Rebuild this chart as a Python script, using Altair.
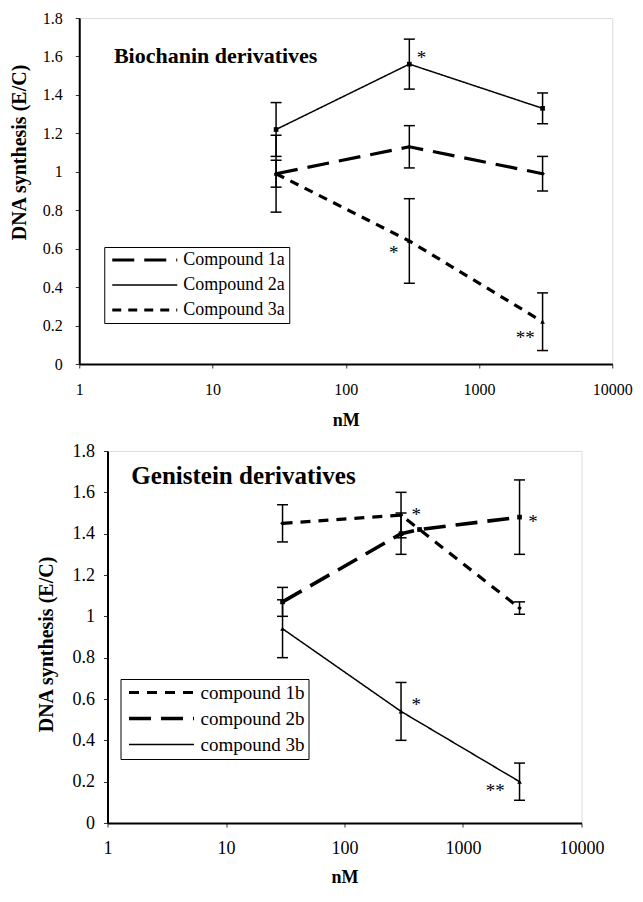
import altair as alt
import pandas as pd

FONT = "Liberation Serif"

# ---------------- data: top panel (Biochanin derivatives) ----------------
top_series = ["Compound 1a", "Compound 2a", "Compound 3a"]
top_x = [30, 300, 3000]
top_mean = {
    "Compound 1a": [0.99, 1.13, 0.99],
    "Compound 2a": [1.22, 1.56, 1.33],
    "Compound 3a": [0.99, 0.64, 0.22],
}
top_lo = {
    "Compound 1a": [0.92, 1.02, 0.90],
    "Compound 2a": [1.08, 1.43, 1.25],
    "Compound 3a": [0.79, 0.42, 0.07],
}
top_hi = {
    "Compound 1a": [1.06, 1.24, 1.08],
    "Compound 2a": [1.36, 1.69, 1.41],
    "Compound 3a": [1.19, 0.86, 0.37],
}
top_star_x = [370, 229, 2223]
top_star_y = [1.59, 0.58, 0.135]
top_star_text = ["*", "*", "**"]
top_title = "Biochanin derivatives"
top_title_x = [1.82]
top_title_y = [1.60]

# ---------------- data: bottom panel (Genistein derivatives) ----------------
bot_series = ["compound 1b", "compound 2b", "compound 3b"]
bot_line_x = {
    "compound 1b": [30, 300, 430, 3000],
    "compound 2b": [30, 300, 430, 3000],
    "compound 3b": [30, 300, 3000],
}
bot_line_y = {
    "compound 1b": [1.45, 1.49, 1.42, 1.04],
    "compound 2b": [1.07, 1.40, 1.42, 1.48],
    "compound 3b": [0.94, 0.54, 0.20],
}
bot_x = [30, 300, 3000]
bot_lo = {
    "compound 1b": [1.36, 1.38, 1.01],
    "compound 2b": [1.00, 1.30, 1.30],
    "compound 3b": [0.80, 0.40, 0.11],
}
bot_hi = {
    "compound 1b": [1.54, 1.60, 1.07],
    "compound 2b": [1.14, 1.50, 1.66],
    "compound 3b": [1.08, 0.68, 0.29],
}
bot_star_x = [403, 3900, 403, 1870]
bot_star_y = [1.49, 1.455, 0.57, 0.156]
bot_star_text = ["*", "*", "*", "**"]
bot_title = "Genistein derivatives"
bot_title_x = [1.59]
bot_title_y = [1.68]

x_ticks = [1, 10, 100, 1000, 10000]
y_ticks = [0, 0.2, 0.4, 0.6, 0.8, 1.0, 1.2, 1.4, 1.6, 1.8]
marker_shapes = ["diamond", "square", "triangle-up"]


def long_df(xs_by, ys_by, series):
    rows = []
    for s in series:
        for xv, yv in zip(xs_by[s], ys_by[s]):
            rows.append({"series": s, "x": xv, "y": yv})
    return pd.DataFrame(rows)


def err_df(xs, lo_by, hi_by, series):
    rows = []
    for s in series:
        for xv, lo, hi in zip(xs, lo_by[s], hi_by[s]):
            rows.append({"series": s, "x": xv, "lo": lo, "hi": hi})
    return pd.DataFrame(rows)


def panel(line_df, e_df, star_df, title_df, series, dashes, widths,
          w, h, tick_fs, title_fs, lab_pad_y, ytitle_pad, ytitle_y, xlab_pad, xtitle_pad,
          legend_x, legend_y, legend_fs, row_pad):
    xs = alt.Scale(type="log", domain=[1, 10000])
    ys = alt.Scale(domain=[0, 1.8])
    xaxis = alt.Axis(values=x_ticks, format="d", title="nM", grid=False, tickCount=20,
                     labelFont=FONT, labelFontSize=tick_fs, labelColor="black",
                     titleFont=FONT, titleFontSize=18, titleFontWeight="bold",
                     titleColor="black", titlePadding=xtitle_pad, labelPadding=xlab_pad,
                     tickSize=4, tickColor="#333", domainColor="black",
                     domainWidth=2, labelFlush=False, labelOverlap=False)
    yaxis = alt.Axis(values=y_ticks, format="~g", title="DNA synthesis (E/C)",
                     grid=False, tickCount=20, labelFont=FONT, labelFontSize=tick_fs,
                     labelColor="black", titleFont=FONT, titleFontSize=20,
                     titleFontWeight="bold", titleColor="black", titleY=ytitle_y,
                     titlePadding=ytitle_pad, labelPadding=lab_pad_y, tickSize=4,
                     tickColor="#333", domainColor="black", domainWidth=2,
                     labelFlush=False, labelOverlap=False)
    leg = alt.Legend(title=None, orient="none", legendX=legend_x, legendY=legend_y,
                     symbolType="M-1,0H12", symbolSize=100, symbolStrokeColor="black",
                     symbolFillColor="transparent",
                     labelFont=FONT, labelFontSize=legend_fs, labelColor="black",
                     strokeColor="black", fillColor="white", padding=4,
                     rowPadding=row_pad, labelOffset=57)
    base_x = alt.X("x:Q", scale=xs, axis=xaxis)
    base_y = alt.Y("y:Q", scale=ys, axis=yaxis)

    lines = alt.Chart(line_df).mark_line(color="black").encode(
        x=base_x, y=base_y,
        strokeDash=alt.StrokeDash("series:N", scale=alt.Scale(domain=series, range=dashes), legend=leg),
        strokeWidth=alt.StrokeWidth("series:N", scale=alt.Scale(type="ordinal", domain=series, range=widths), legend=leg),
    )
    pts = [
        alt.Chart(line_df).transform_filter(alt.datum.series == s).mark_point(
            filled=True, color="black", opacity=1, size=22, shape=shp).encode(x="x:Q", y="y:Q")
        for s, shp in zip(series, marker_shapes)
    ]
    rules = alt.Chart(e_df).mark_rule(color="black", strokeWidth=1.5).encode(
        x="x:Q", y="lo:Q", y2="hi:Q")
    cap_lo = alt.Chart(e_df).mark_tick(color="black", orient="horizontal", size=11,
                                       thickness=1.5, opacity=1).encode(x="x:Q", y="lo:Q")
    cap_hi = alt.Chart(e_df).mark_tick(color="black", orient="horizontal", size=11,
                                       thickness=1.5, opacity=1).encode(x="x:Q", y="hi:Q")
    stars = alt.Chart(star_df).mark_text(font=FONT, fontSize=19, color="black",
                                         baseline="middle", align="center").encode(
        x="x:Q", y="y:Q", text="t:N")
    ttl = alt.Chart(title_df).mark_text(font=FONT, fontSize=title_fs, fontWeight="bold",
                                        color="black", align="left", baseline="middle").encode(
        x="x:Q", y="y:Q", text="t:N")
    return alt.layer(lines, rules, cap_lo, cap_hi, *pts, stars, ttl).properties(
        width=w, height=h)


top_line = long_df({s: top_x for s in top_series}, top_mean, top_series)
top_err = err_df(top_x, top_lo, top_hi, top_series)
top_stars = pd.DataFrame({"x": top_star_x, "y": top_star_y, "t": top_star_text})
top_t = pd.DataFrame({"x": top_title_x, "y": top_title_y, "t": [top_title]})

bot_line = long_df(bot_line_x, bot_line_y, bot_series)
bot_err = err_df(bot_x, bot_lo, bot_hi, bot_series)
bot_stars = pd.DataFrame({"x": bot_star_x, "y": bot_star_y, "t": bot_star_text})
bot_t = pd.DataFrame({"x": bot_title_x, "y": bot_title_y, "t": [bot_title]})

top = panel(top_line, top_err, top_stars, top_t, top_series,
            dashes=[[22, 10], [1, 0], [9, 7]], widths=[3.2, 1.5, 3.2],
            w=533, h=346, tick_fs=16, title_fs=22, lab_pad_y=13, ytitle_pad=13,
            ytitle_y=134, xlab_pad=13, xtitle_pad=14,
            legend_x=25, legend_y=229, legend_fs=18, row_pad=7)
bot = panel(bot_line, bot_err, bot_stars, bot_t, bot_series,
            dashes=[[10, 8], [22, 10], [1, 0]], widths=[3.2, 3.6, 1.5],
            w=474, h=372, tick_fs=18, title_fs=25, lab_pad_y=9, ytitle_pad=16,
            ytitle_y=193, xlab_pad=12, xtitle_pad=11,
            legend_x=13, legend_y=228, legend_fs=19, row_pad=6)

chart = alt.vconcat(top, bot, spacing=11, center=True).resolve_scale(
    x="independent", y="independent", strokeDash="independent",
    strokeWidth="independent"
).resolve_legend(strokeDash="independent", strokeWidth="independent"
).properties(
    padding={"left": 0, "top": 1, "right": 0, "bottom": 0}
).configure_view(stroke="#333", strokeWidth=1.5).configure(background="white")

chart.save("out.html", embed_options={"renderer": "svg", "actions": False})
